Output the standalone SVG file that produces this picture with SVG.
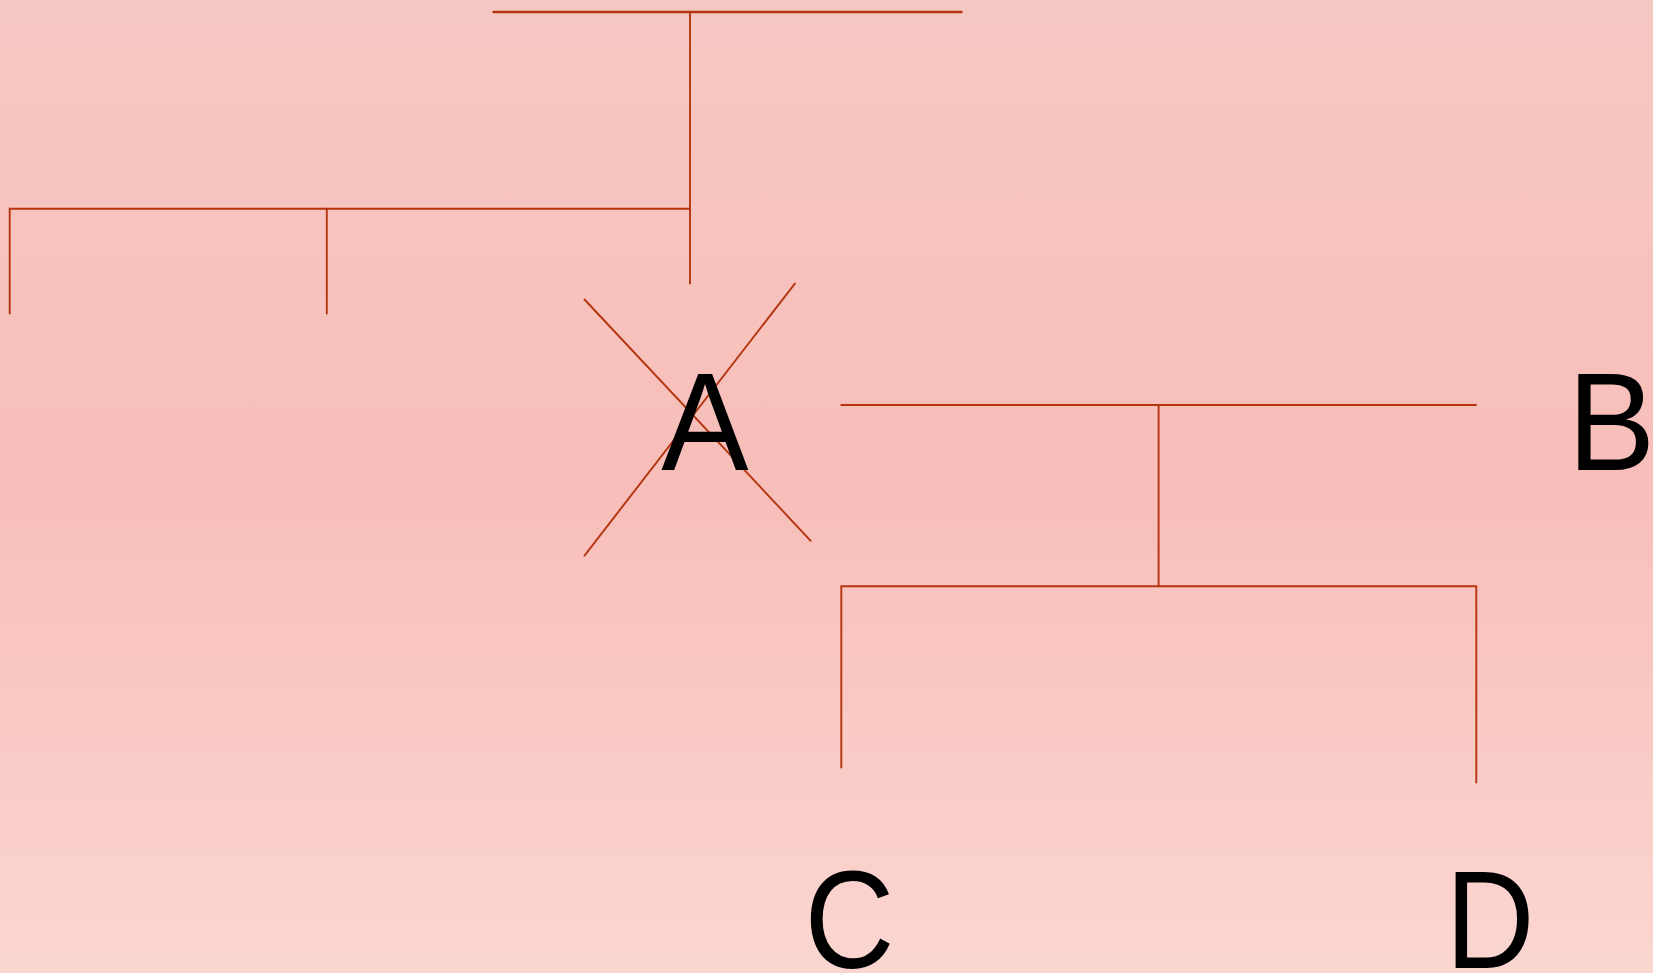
<svg xmlns="http://www.w3.org/2000/svg" width="1653" height="973" viewBox="0 0 1653 973">
<defs>
<linearGradient id="bg" x1="0" y1="0" x2="0" y2="1">
<stop offset="0" stop-color="#F6C8C3"/>
<stop offset="0.5" stop-color="#F8BEB9"/>
<stop offset="1" stop-color="#FBD6D1"/>
</linearGradient>
</defs>
<style>
.c{stroke:#B5350F;stroke-width:1.9;fill:none;stroke-linecap:round}
.t{font-family:"Liberation Sans",Arial,sans-serif;font-size:140px;fill:#000;text-anchor:middle}
</style>
<rect x="0" y="0" width="1653" height="973" fill="url(#bg)"/>
<g id="connectors">
<line class="c" x1="493.5" y1="12" x2="961.5" y2="12" style="stroke-width:2.4"/>
<line class="c" x1="690" y1="12" x2="690" y2="283.5"/>
<polyline class="c" points="690,208.7 9.7,208.7 9.7,313.5"/>
<line class="c" x1="326.8" y1="208.7" x2="326.8" y2="313.5"/>
<line class="c" x1="584.5" y1="299.5" x2="810.7" y2="540.8"/>
<line class="c" x1="794.9" y1="283.6" x2="584.5" y2="555.6"/>
<line class="c" x1="841.3" y1="405" x2="1476" y2="405"/>
<line class="c" x1="1158.6" y1="405" x2="1158.6" y2="586.2"/>
<polyline class="c" points="841.3,767.5 841.3,586.2 1476.3,586.2 1476.3,782.5"/>
</g>
<g id="nodeA"><text class="t" x="705" y="470" transform="translate(705,0) scale(0.935,1) translate(-705,0)">A</text></g>
<g id="nodeB"><text class="t" x="1611.5" y="470" transform="translate(1611.5,0) scale(0.94,1) translate(-1611.5,0)">B</text></g>
<g id="nodeC"><text class="t" x="849.5" y="968" transform="translate(849.5,0) scale(0.89,1) translate(-849.5,0)">C</text></g>
<g id="nodeD"><text class="t" x="1490" y="968" transform="translate(1490,0) scale(0.88,1) translate(-1490,0)">D</text></g>
</svg>
